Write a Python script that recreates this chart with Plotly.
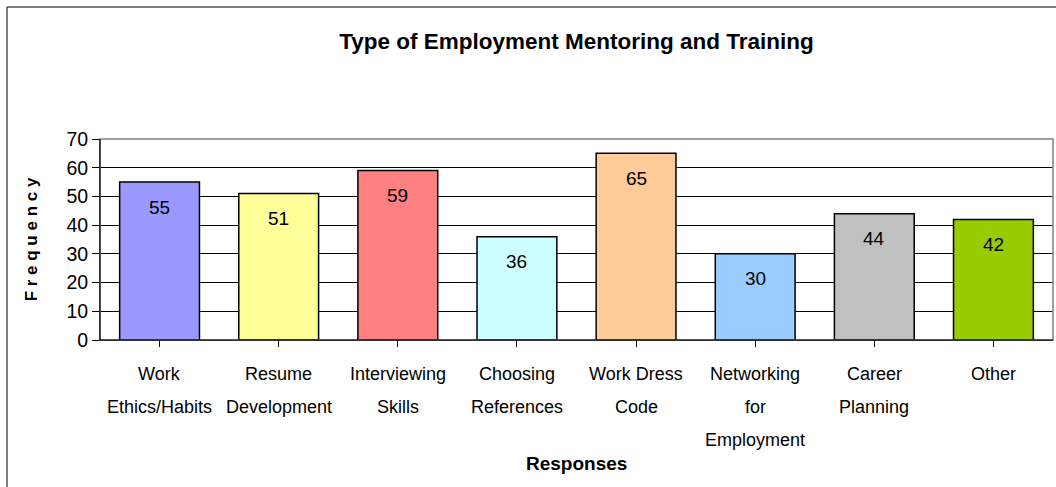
import plotly.graph_objects as go

categories = ["Work<br>Ethics/Habits", "Resume<br>Development", "Interviewing<br>Skills",
              "Choosing<br>References", "Work Dress<br>Code", "Networking<br>for<br>Employment",
              "Career<br>Planning", "Other"]
values = [55, 51, 59, 36, 65, 30, 44, 42]
colors = ["#9999FF", "#FFFF99", "#FF8080", "#CCFFFF", "#FFCC99", "#99CCFF", "#C0C0C0", "#99CC00"]
y_ticks = [0, 10, 20, 30, 40, 50, 60, 70]

FONT = "Liberation Sans, Arial, sans-serif"

fig = go.Figure()
fig.add_trace(go.Bar(
    x=list(range(len(categories))), y=values,
    marker=dict(color=colors, line=dict(color="black", width=1.5)),
    hoverinfo="skip",
))

annotations = []
for i, v in enumerate(values):
    annotations.append(dict(x=i, y=v, xref="x", yref="y", text=str(v), showarrow=False,
                            yshift=-25, yanchor="middle",
                            font=dict(family=FONT, size=19, color="black")))
# category labels, one annotation per line for Excel-like line spacing
for i, lab in enumerate(categories):
    for j, line in enumerate(lab.split("<br>")):
        annotations.append(dict(x=i, y=0, xref="x", yref="paper", text=line, showarrow=False,
                                yanchor="middle", yshift=-34 - 33 * j,
                                font=dict(family=FONT, size=18, color="black")))
annotations.append(dict(x=0.5, y=0, xref="paper", yref="paper", text="<b>Responses</b>",
                        showarrow=False, yanchor="middle", yshift=-123,
                        font=dict(family=FONT, size=19, color="black")))

fig.update_layout(
    width=1056, height=487,
    margin=dict(l=100, r=3, t=139, b=147),
    paper_bgcolor="white", plot_bgcolor="white",
    bargap=0.33,
    showlegend=False,
    title=dict(text="<b>Type of Employment Mentoring and Training</b>",
               x=0.5, xanchor="center", xref="paper", y=1 - 41 / 487, yanchor="middle",
               font=dict(family=FONT, size=22.5, color="black")),
    font=dict(family=FONT, color="black"),
    xaxis=dict(range=[-0.5, len(categories) - 0.5], tickvals=list(range(len(categories))),
               showticklabels=False, ticks="outside", tickson="boundaries", ticklen=6,
               tickcolor="black", showline=True, linecolor="black", linewidth=1,
               showgrid=False, mirror=False, zeroline=False),
    yaxis=dict(range=[0, 70], tickvals=y_ticks, ticks="outside", ticklen=7, tickcolor="black",
               showline=True, linecolor="black", linewidth=1, showgrid=True,
               gridcolor="#000000", gridwidth=1, zeroline=False,
               tickfont=dict(family=FONT, size=19.5, color="black"),
               title=dict(text="<b>F r e q u e n c y</b>", standoff=24,
                          font=dict(family=FONT, size=17, color="black"))),
    annotations=annotations,
    shapes=[
        dict(type="rect", xref="paper", yref="paper", x0=0, x1=1, y0=0, y1=1,
             line=dict(color="#808080", width=1.5), layer="above"),
        dict(type="line", xref="paper", yref="paper", x0=0, x1=0, y0=0, y1=1,
             line=dict(color="black", width=1), layer="above"),
        dict(type="line", xref="paper", yref="paper", x0=0, x1=1, y0=0, y1=0,
             line=dict(color="black", width=1), layer="above"),
        dict(type="line", xref="paper", yref="paper", x0=(7 - 100) / 953, x1=1.1,
             y0=1 + (139 - 7) / 201, y1=1 + (139 - 7) / 201,
             line=dict(color="black", width=1)),
        dict(type="line", xref="paper", yref="paper", x0=(7 - 100) / 953, x1=(7 - 100) / 953,
             y0=-1, y1=1 + (139 - 7) / 201,
             line=dict(color="black", width=1)),
    ],
)

fig.write_html("out.html", config={"displayModeBar": False},
               post_script="document.body.style.margin='0';")
